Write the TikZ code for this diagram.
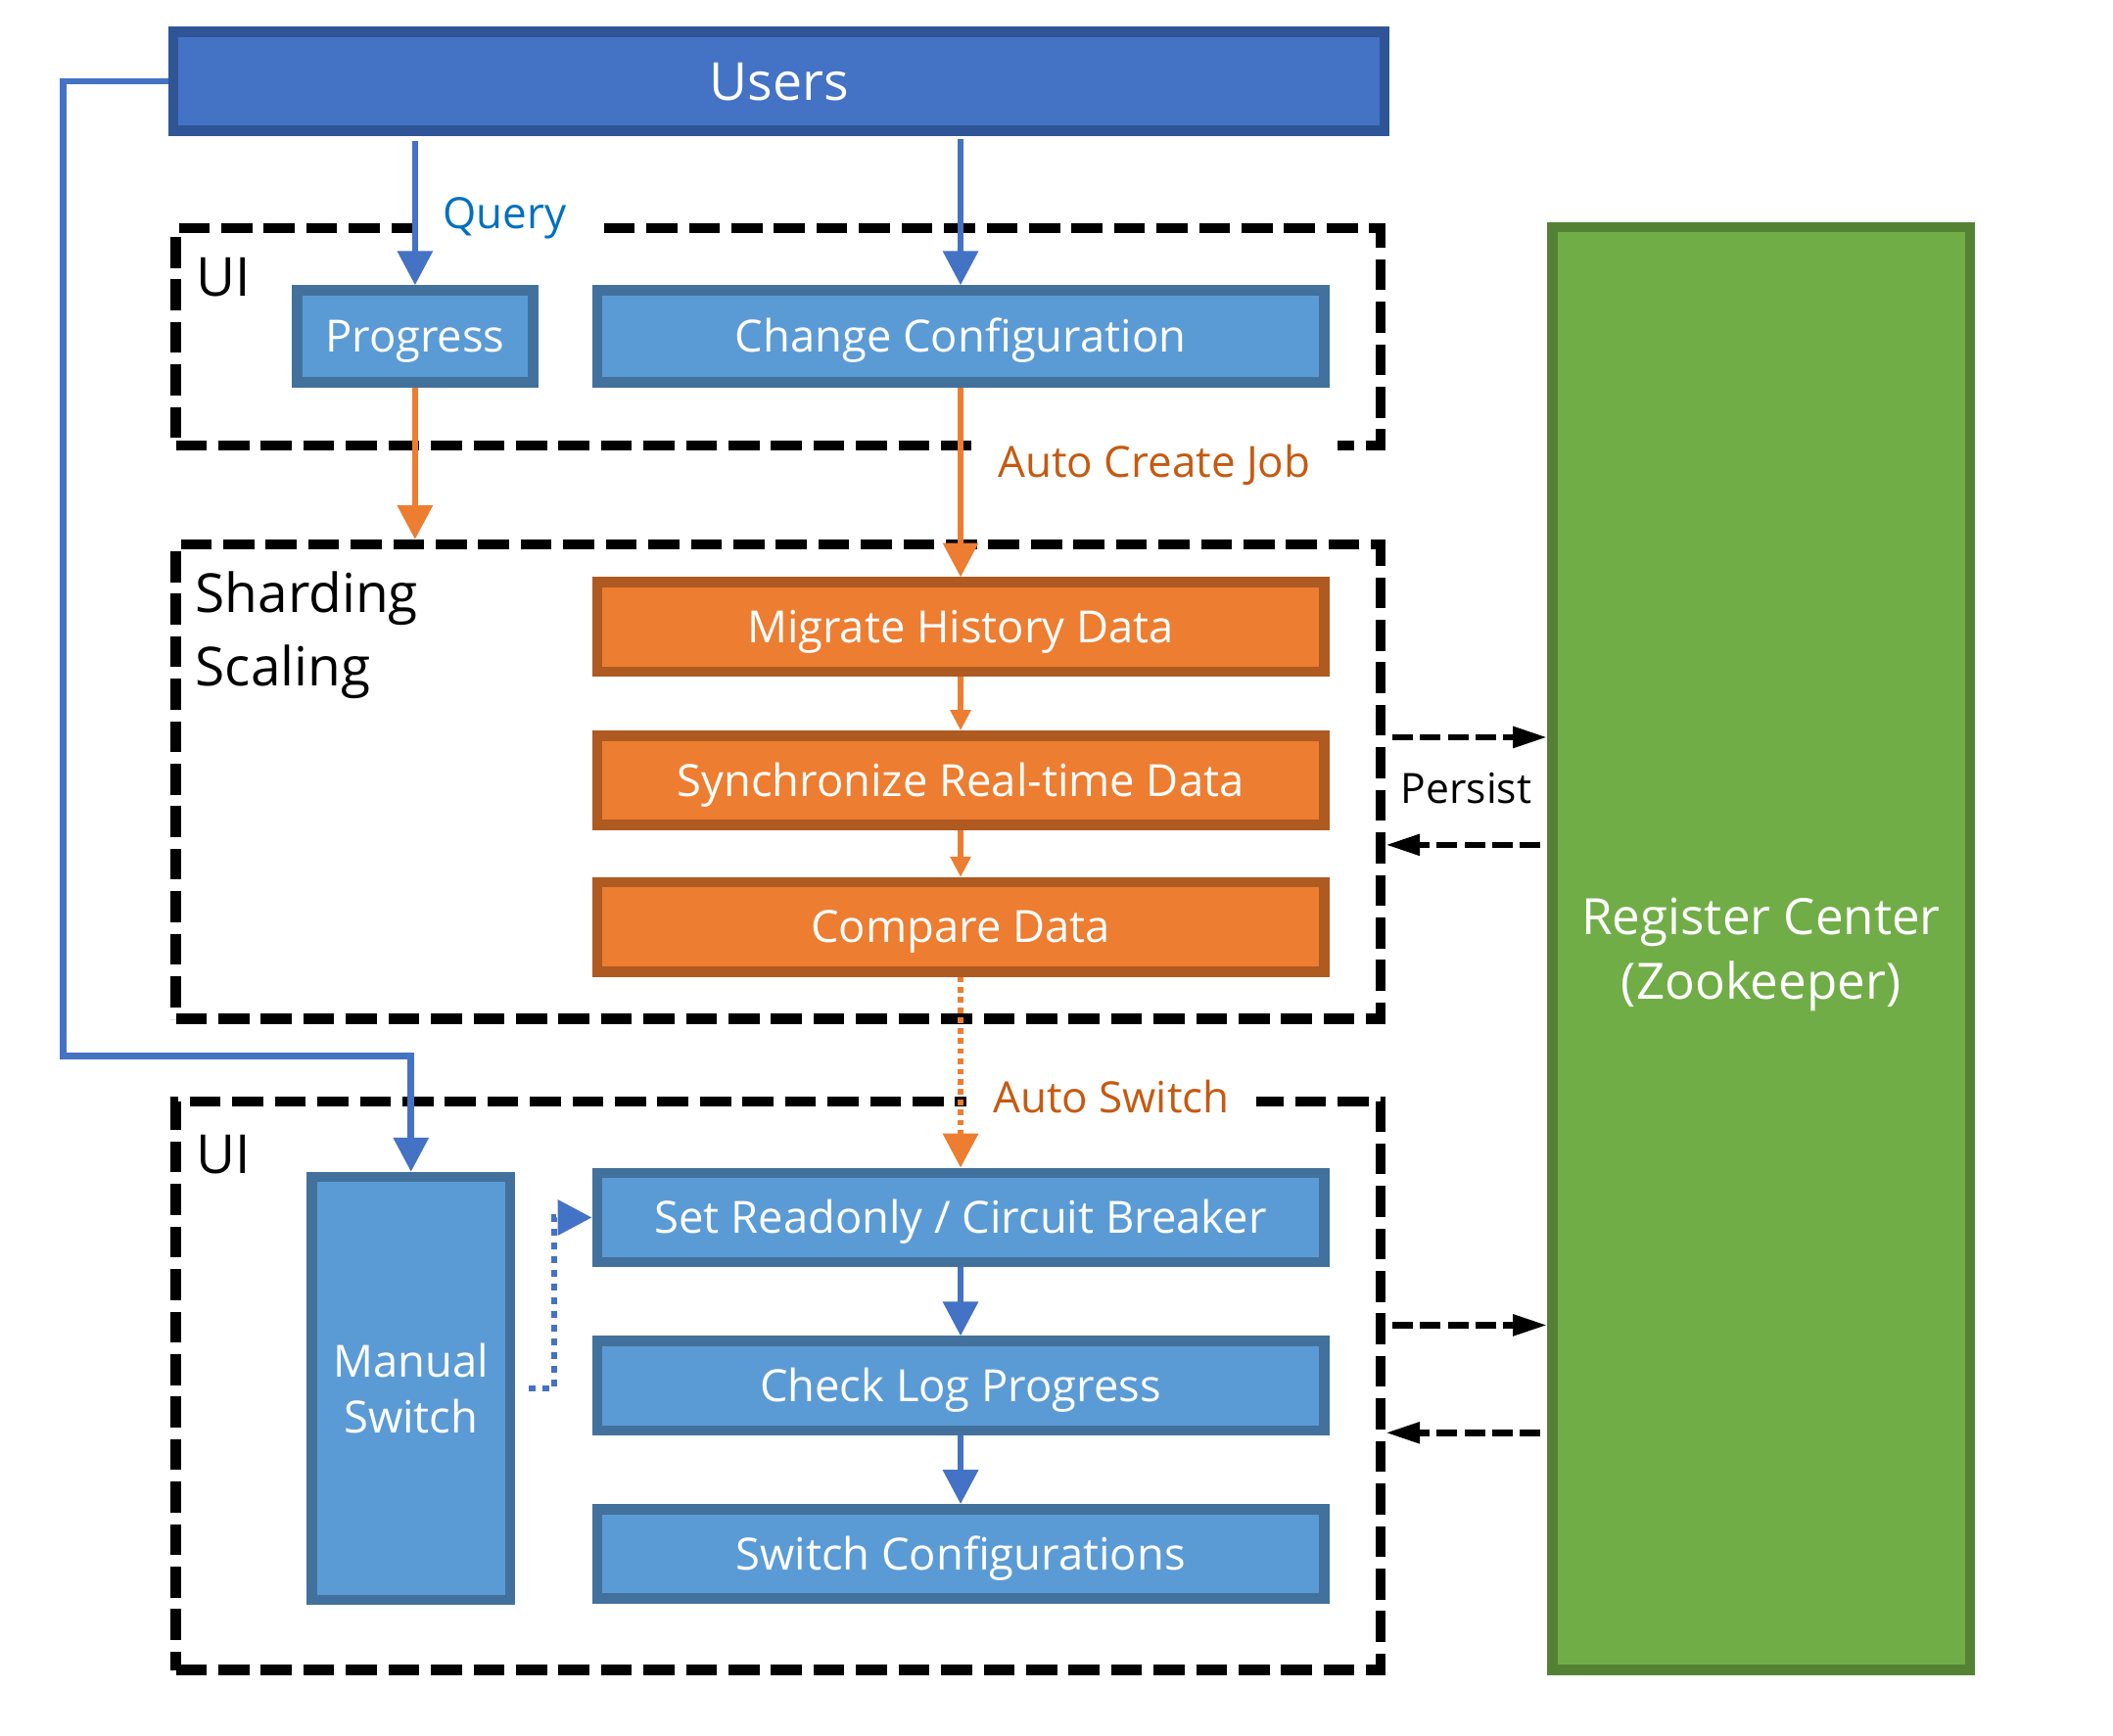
\documentclass[tikz,border=0pt]{standalone}
\usepackage{fontspec}
\setmainfont{Open Sans}
\usepackage{tikz}
\usetikzlibrary{arrows.meta}
\usetikzlibrary{positioning}

\definecolor{usersblue}{HTML}{4472C4}
\definecolor{usersedge}{HTML}{2F5597}
\definecolor{boxblue}{HTML}{5B9BD5}
\definecolor{boxedge}{HTML}{41719C}
\definecolor{boxorange}{HTML}{ED7D31}
\definecolor{orangeedge}{HTML}{AE5A21}
\definecolor{regreen}{HTML}{70AD47}
\definecolor{greenedge}{HTML}{548235}
\definecolor{querytext}{HTML}{0070C0}
\definecolor{labelorange}{HTML}{C55A11}

\begin{document}
\begin{tikzpicture}[x=0.5pt, y=-0.5pt]
            \tikzstyle{frame}=[draw=black, line width=3.7pt, dash pattern=on 11.5pt off 4.3pt, inner sep=0pt, minimum width=447.8pt]
            \tikzstyle{bluebox}=[draw=boxedge, fill=boxblue, line width=3.8pt, text=white, font=\fontsize{16.5}{20}\selectfont, text height=11.8pt, text depth=0pt, minimum width=270.2pt, minimum height=33.2pt, inner sep=0pt]
            \tikzstyle{orangebox}=[bluebox, draw=orangeedge, fill=boxorange]
            \tikzstyle{grouplabel}=[font=\fontsize{20}{27.5}\selectfont, inner sep=0pt, align=left]
            \tikzstyle{edgelabel}=[fill=white, inner xsep=10pt, inner ysep=2pt, font=\fontsize{16}{20}\selectfont]
            \tikzstyle{bluearrow}=[draw=usersblue, line width=2.4pt, -{Triangle[width=12.7pt,length=12.7pt]}]
            \tikzstyle{orangearrow}=[bluearrow, draw=boxorange]
            \tikzstyle{steparrow}=[draw=boxorange, line width=2.4pt, -{Triangle[width=7.3pt,length=7.6pt]}]
            \tikzstyle{syncarrow}=[draw=black, line width=2.4pt, dash pattern=on 7.6pt off 2.7pt, -{Triangle[width=7.5pt,length=12.7pt]}]

            \useasboundingbox (0,0) rectangle (1570.6,1289.7);

            \node[frame, minimum height=80.8pt]  (ui1)   at (578.5,250.5) {};
            \node[frame, minimum height=176.3pt] (shard) at (578.5,581)   {};
            \node[frame, minimum height=211.3pt] (ui2)   at (578.5,1030)  {};

            \node[draw=usersedge, fill=usersblue, line width=3.8pt, minimum width=450.2pt, minimum height=36.7pt, text=white, font=\fontsize{19.5}{24}\selectfont, text height=13.9pt, text depth=0pt] (users) at (579,60.5) {Users};
            \node[draw=greenedge, fill=regreen, line width=3.8pt, minimum width=155.2pt, minimum height=536.2pt, text=white, align=center, font=\fontsize{18.6}{24}\selectfont, text depth=0pt] (reg) at (1309,705) {Register Center\\(Zookeeper)};

            \node[bluebox, minimum width=87.7pt, minimum height=34.2pt] (progress) at (308.5,250) {Progress};
            \node[bluebox, minimum height=34.2pt] (chg) at (714,250) {Change Configuration};

            \node[orangebox] (migrate) at (714,466) {Migrate History Data};
            \node[orangebox] (sync)    [below=20pt of migrate] {Synchronize Real-time Data};
            \node[orangebox] (compare) [below=17.5pt of sync] {Compare Data};

            \node[bluebox] (setro)     at (714,905) {Set Readonly / Circuit Breaker};
            \node[bluebox] (check)     [below=25.5pt of setro] {Check Log Progress};
            \node[bluebox] (switchcfg) [below=25.5pt of check] {Switch Configurations};
            \node[bluebox, text height={}, text depth={}, minimum width=73.7pt, minimum height=157.2pt, align=center, font=\fontsize{16.5}{21}\selectfont] (manual) at (305.5,1032) {Manual\\Switch};

            \node[grouplabel] (uitop) at (166,206) {UI};
            \node[grouplabel, anchor=west] (shardlbl) at (145,472) {Sharding\\Scaling};
            \node[grouplabel] (uibottom) at (166,858) {UI};

            \node[edgelabel, text=querytext]   (querylbl)  at (375,162) {Query};
            \node[edgelabel, text=labelorange] (createlbl) at (858,346) {Auto Create Job};
            \node[edgelabel, text=labelorange] (switchlbl) at (826,815) {Auto Switch};
            \node[font=\fontsize{15.5}{20}\selectfont, inner sep=0pt] (persistlbl) at (1090,586) {Persist};

            \coordinate (detour) at (47,785);
            \coordinate (persistout) at ([yshift=16.5pt]shard.east);
            \coordinate (persistin)  at ([yshift=-23.5pt]shard.east);
            \coordinate (switchout)  at ([yshift=22.5pt]ui2.east);
            \coordinate (switchin)   at ([yshift=-17.5pt]ui2.east);

            \draw[bluearrow, shorten <=2pt] (users.south -| progress.north) -- (progress.north);
            \draw[bluearrow, shorten <=1pt] (users.south -| chg.north) -- (chg.north);
            \draw[bluearrow] (users.west) -| (detour) -| (manual.north);
            \draw[orangearrow] (progress.south) -- (progress.south |- shard.north);
            \draw[orangearrow] (chg.south) -- (migrate.north);
            \draw[steparrow] (migrate.south) -- (sync.north);
            \draw[steparrow] (sync.south) -- (compare.north);
            \draw[orangearrow, dash pattern=on 2.1pt off 1.7pt] (compare.south) -- (setro.north);
            \draw[bluearrow] (setro.south) -- (check.north);
            \draw[bluearrow] (check.south) -- (switchcfg.north);
            \draw[bluearrow, dash pattern=on 2.4pt off 2.7pt, shorten <=5pt] (manual.east) -- ++(29,0) |- (setro.west);

            \draw[syncarrow, shorten <=2.5pt] (persistout) -- (persistout -| reg.west);
            \draw[syncarrow, shorten <=2.5pt] (persistin -| reg.west) -- (persistin);
            \draw[syncarrow, shorten <=2.5pt] (switchout) -- (switchout -| reg.west);
            \draw[syncarrow, shorten <=2.5pt] (switchin -| reg.west) -- (switchin);
        \end{tikzpicture}
\end{document}
